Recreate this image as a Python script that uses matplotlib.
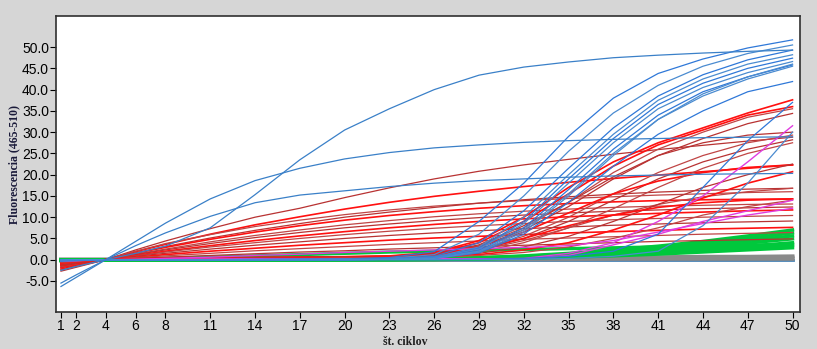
import matplotlib.pyplot as plt

cycles = [1, 2, 4, 6, 8, 11, 14, 17, 20, 23, 26, 29, 32, 35, 38, 41, 44, 47, 50]
xticks = [1, 2, 4, 6, 8, 11, 14, 17, 20, 23, 26, 29, 32, 35, 38, 41, 44, 47, 50]
yticks = [-5, 0, 5, 10, 15, 20, 25, 30, 35, 40, 45, 50]

# early blue curves (high signal)
blue_early = [
    [-2.5, -1.6, 0, 1.5, 3.2, 7.5, 15.3, 23.5, 30.5, 35.5, 40.0, 43.4, 45.3, 46.5, 47.5, 48.1, 48.6, 49.0, 49.3],
    [-6.3, -4.2, 0, 4.3, 8.6, 14.3, 18.6, 21.5, 23.7, 25.2, 26.3, 27.0, 27.6, 28.0, 28.3, 28.5, 28.7, 28.8, 28.9],
    [-5.5, -3.6, 0, 3.3, 6.3, 10.2, 13.4, 15.2, 16.2, 17.2, 18.0, 18.6, 19.0, 19.4, 19.7, 19.9, 20.1, 20.2, 20.3],
]

# blue sigmoid curves
blue_sig = [
    [-0.3, -0.2, 0, 0, 0, 0, 0.1, 0.1, 0.2, 0.5, 1.9, 9.0, 18.0, 29.0, 38.0, 43.8, 47.2, 49.8, 51.7],
    [-0.3, -0.2, 0, 0, 0, 0, 0.0, 0.1, 0.1, 0.3, 1.2, 6.0, 15.0, 25.5, 34.5, 41.0, 45.5, 48.5, 50.5],
    [-0.2, -0.1, 0, 0, 0, 0, 0.0, 0.1, 0.1, 0.2, 0.8, 4.0, 11.5, 21.5, 31.0, 38.5, 43.5, 47.0, 49.3],
    [-0.2, -0.1, 0, 0, 0, 0, 0.0, 0.0, 0.1, 0.2, 0.6, 3.0, 10.0, 20.0, 29.5, 37.5, 42.5, 46.0, 48.2],
    [-0.2, -0.1, 0, 0, 0, 0, 0.0, 0.0, 0.0, 0.2, 0.5, 2.7, 9.0, 19.0, 28.5, 36.5, 41.5, 45.0, 47.4],
    [-0.2, -0.1, 0, 0, 0, 0, 0.0, 0.0, 0.0, 0.1, 0.5, 2.5, 8.5, 18.0, 27.5, 35.5, 40.5, 44.0, 46.6],
    [-0.2, -0.1, 0, 0, 0, 0, 0.0, 0.0, 0.0, 0.1, 0.4, 2.2, 7.5, 16.5, 26.0, 34.0, 39.5, 43.0, 45.8],
    [-0.1, -0.1, 0, 0, 0, 0, 0.0, 0.0, 0.0, 0.1, 0.4, 2.0, 7.0, 15.5, 25.0, 33.0, 38.5, 42.5, 45.5],
    [-0.1, -0.1, 0, 0, 0, 0, 0.0, 0.0, 0.0, 0.1, 0.3, 1.6, 6.0, 13.5, 22.0, 29.5, 35.0, 39.5, 41.9],
    [-0.1, -0.1, 0, 0, 0, 0, 0.0, 0.0, 0.0, 0.1, 0.3, 1.8, 6.5, 15.0, 24.5, 33.0, 39.0, 43.0, 46.0],
    [-0.1, -0.1, 0, 0, 0, 0, 0.0, 0.0, 0.0, 0.0, 0.0, 0.1, 0.3, 0.8, 2.0, 6.0, 17.0, 28.0, 37.0],
    [-0.1, 0.0, 0, 0, 0, 0, 0.0, 0.0, 0.0, 0.0, 0.0, 0.0, 0.1, 0.3, 0.8, 2.0, 8.0, 18.0, 30.0],
]

# red curves with linear drift
red_lin = [
    [-2.7, -1.8, 0, 2.3, 4.4, 7.3, 10.0, 12.1, 14.6, 16.9, 19.0, 20.8, 22.3, 23.6, 24.8, 25.9, 26.9, 27.9, 28.8],
    [-2.2, -1.4, 0, 1.9, 3.6, 6.0, 8.2, 10.1, 11.9, 13.5, 14.9, 16.1, 17.2, 18.2, 19.1, 19.9, 20.7, 21.5, 22.3],
    [-2.4, -1.6, 0, 2.0, 3.8, 5.9, 7.8, 9.3, 10.6, 11.7, 12.6, 13.3, 13.9, 14.4, 14.8, 15.2, 15.5, 15.8, 16.0],
    [-1.9, -1.2, 0, 1.6, 3.1, 5.1, 6.9, 8.5, 10.0, 11.2, 12.3, 13.3, 14.1, 14.8, 15.4, 15.9, 16.3, 16.6, 16.8],
    [-1.8, -1.1, 0, 1.5, 2.9, 4.8, 6.5, 8.0, 9.3, 10.4, 11.3, 12.1, 12.7, 13.2, 13.6, 13.9, 14.1, 14.2, 14.3],
    [-1.6, -1.0, 0, 1.3, 2.5, 4.2, 5.7, 7.0, 8.2, 9.2, 10.1, 10.8, 11.4, 11.9, 12.3, 12.6, 12.8, 13.0, 13.1],
    [-1.5, -0.9, 0, 1.2, 2.3, 3.8, 5.2, 6.4, 7.5, 8.4, 9.2, 9.9, 10.5, 11.0, 11.4, 11.7, 12.0, 12.2, 12.4],
    [-1.3, -0.8, 0, 1.0, 2.0, 3.3, 4.5, 5.6, 6.6, 7.5, 8.3, 9.0, 9.6, 10.1, 10.5, 10.9, 11.2, 11.5, 11.7],
    [-1.2, -0.7, 0, 0.9, 1.8, 3.0, 4.0, 5.0, 5.9, 6.7, 7.4, 8.0, 8.5, 9.0, 9.4, 9.7, 10.0, 10.2, 10.4],
    [-1.0, -0.6, 0, 0.8, 1.5, 2.5, 3.4, 4.2, 5.0, 5.7, 6.3, 6.8, 7.3, 7.7, 8.1, 8.4, 8.7, 8.9, 9.1],
    [-0.9, -0.5, 0, 0.6, 1.2, 2.0, 2.7, 3.4, 4.0, 4.6, 5.1, 5.5, 5.9, 6.3, 6.6, 6.9, 7.2, 7.4, 7.6],
    [-0.7, -0.4, 0, 0.5, 0.9, 1.5, 2.1, 2.6, 3.1, 3.6, 4.0, 4.4, 4.8, 5.1, 5.4, 5.7, 6.0, 6.2, 6.4],
    [-0.5, -0.3, 0, 0.3, 0.6, 1.0, 1.4, 1.8, 2.1, 2.5, 2.8, 3.1, 3.4, 3.7, 4.0, 4.3, 4.5, 4.7, 4.9],
]

# red sigmoid curves (late rise)
red_sig = [
    [-0.8, -0.5, 0, 0.1, 0.2, 0.3, 0.4, 0.5, 0.6, 0.8, 1.5, 4.0, 9.0, 15.5, 22.0, 27.0, 30.5, 34.0, 36.0],
    [-0.9, -0.6, 0, 0.1, 0.2, 0.3, 0.4, 0.5, 0.6, 0.8, 1.3, 3.3, 7.5, 13.5, 20.5, 26.0, 30.0, 33.5, 35.5],
    [-1.0, -0.6, 0, 0.1, 0.2, 0.3, 0.4, 0.5, 0.6, 0.7, 1.2, 3.0, 7.0, 12.5, 19.0, 24.5, 28.5, 32.0, 34.4],
    [-1.1, -0.7, 0, 0.2, 0.3, 0.4, 0.5, 0.6, 0.7, 0.9, 1.7, 4.5, 10.0, 17.0, 23.0, 27.5, 31.0, 34.5, 37.6],
    [-0.7, -0.4, 0, 0.1, 0.2, 0.3, 0.4, 0.5, 0.5, 0.7, 1.1, 2.5, 5.5, 10.0, 15.5, 20.5, 24.5, 27.5, 29.3],
    [-0.6, -0.4, 0, 0.1, 0.2, 0.2, 0.3, 0.4, 0.5, 0.6, 1.0, 2.2, 5.0, 9.0, 14.0, 19.0, 23.0, 26.0, 28.2],
    [-1.2, -0.8, 0, 0.2, 0.3, 0.4, 0.5, 0.6, 0.7, 0.8, 1.3, 3.0, 6.5, 11.0, 15.5, 18.5, 20.5, 21.7, 22.3],
    [-0.9, -0.6, 0, 0.1, 0.2, 0.3, 0.4, 0.5, 0.5, 0.6, 1.0, 2.2, 4.5, 7.5, 10.5, 13.0, 14.8, 16.0, 16.8],
    [-0.5, -0.3, 0, 0.1, 0.1, 0.2, 0.3, 0.3, 0.4, 0.5, 0.8, 1.5, 3.0, 5.5, 9.0, 13.0, 17.0, 20.0, 22.5],
    [-0.4, -0.3, 0, 0.1, 0.1, 0.2, 0.2, 0.3, 0.4, 0.5, 0.7, 1.2, 2.3, 4.0, 7.0, 10.5, 14.5, 18.0, 20.7],
    [-0.4, -0.2, 0, 0.0, 0.1, 0.1, 0.2, 0.2, 0.3, 0.4, 0.6, 1.0, 1.7, 3.0, 5.0, 7.5, 10.5, 12.5, 14.0],
    [-1.3, -0.8, 0, 0.2, 0.3, 0.4, 0.5, 0.6, 0.7, 0.8, 1.4, 3.5, 8.0, 13.5, 19.5, 24.5, 27.5, 29.3, 30.0],
    [-0.8, -0.5, 0, 0.1, 0.2, 0.3, 0.3, 0.4, 0.5, 0.7, 1.2, 2.5, 5.0, 8.0, 10.5, 12.3, 13.4, 14.0, 14.3],
    [-0.6, -0.4, 0, 0.1, 0.1, 0.2, 0.3, 0.3, 0.4, 0.5, 0.8, 1.8, 4.0, 7.5, 12.0, 17.0, 21.5, 25.0, 27.5],
]

magenta = [
    [-0.3, -0.2, 0, 0, 0.1, 0.1, 0.2, 0.2, 0.2, 0.2, 0.2, 0.2, 0.3, 1.5, 4.0, 9.0, 15.0, 23.0, 31.5],
    [-0.3, -0.2, 0, 0, 0.1, 0.1, 0.2, 0.2, 0.2, 0.2, 0.2, 0.2, 0.2, 1.0, 3.5, 6.0, 9.0, 11.5, 14.0],
    [-0.2, -0.1, 0, 0.1, 0.3, 0.6, 1.0, 1.3, 1.7, 2.0, 2.3, 2.6, 2.9, 3.3, 4.5, 6.5, 8.5, 10.5, 12.1],
]

green = [
    [-0.2, -0.1, 0, 0, 0, 0, 0, 0, 0.1, 0.1, 0.2, 0.5, 0.9, 1.5, 2.3, 3.2, 4.3, 5.6, 7.0],
    [-0.2, -0.1, 0, 0, 0, 0, 0, 0, 0.1, 0.1, 0.2, 0.4, 0.8, 1.3, 2.0, 2.9, 3.9, 5.0, 6.3],
    [-0.1, -0.1, 0, 0, 0, 0, 0, 0, 0.0, 0.1, 0.1, 0.3, 0.7, 1.1, 1.7, 2.5, 3.4, 4.5, 5.6],
    [-0.1, -0.1, 0, 0, 0, 0, 0, 0, 0.0, 0.1, 0.1, 0.3, 0.6, 1.0, 1.5, 2.2, 3.0, 3.9, 4.9],
    [-0.1, 0.0, 0, 0, 0, 0, 0, 0, 0.0, 0.0, 0.1, 0.2, 0.5, 0.8, 1.3, 1.8, 2.5, 3.2, 4.0],
    [-0.1, 0.0, 0, 0, 0, 0, 0, 0, 0.0, 0.0, 0.1, 0.2, 0.4, 0.7, 1.1, 1.5, 2.1, 2.7, 3.3],
    [0.0, 0.0, 0, 0, 0, 0, 0, 0, 0.0, 0.0, 0.0, 0.2, 0.3, 0.6, 0.9, 1.3, 1.8, 2.3, 2.8],
    [-0.2, -0.1, 0, 0.1, 0.3, 0.6, 0.9, 1.2, 1.5, 1.8, 2.0, 2.2, 2.4, 2.6, 2.8, 3.0, 3.2, 3.4, 3.6],
]

gray = [
    [0.0, 0.0, 0, 0, 0, 0, 0, 0, 0.1, 0.1, 0.2, 0.3, 0.4, 0.5, 0.5, 0.6, 0.7, 0.7, 0.8],
    [0.0, 0.0, 0, 0, 0, 0, 0, 0, 0.0, 0.1, 0.1, 0.2, 0.2, 0.3, 0.3, 0.4, 0.4, 0.5, 0.5],
    [0.0, 0.0, 0, 0, 0, 0, 0, 0, 0.0, 0.0, 0.0, 0.1, 0.1, 0.1, 0.2, 0.2, 0.2, 0.2, 0.2],
]

# flat negative controls
flat = [
    [0.0, 0.0, 0, 0, 0, 0, 0, 0, 0, 0, 0, 0, 0, 0, 0, 0, 0, 0, 0],
]

fig = plt.figure(figsize=(8.17, 3.49), dpi=100, facecolor="#d6d6d6")
ax = fig.add_axes([0.0685, 0.106, 0.9107, 0.848])
ax.set_facecolor("white")

reds = ["#b83232", "#ff1010", "#c04545"]
for v in flat:
    ax.plot(cycles, v, color="#4682b4", lw=2.0)
for v in gray:
    ax.plot(cycles, v, color="#8a8a8a", lw=2.8)
for v in green:
    ax.plot(cycles, v, color="#00c83c", lw=2.4)
for i, v in enumerate(red_lin):
    ax.plot(cycles, v, color=reds[i % 3], lw=1.2 if i % 3 == 1 else 0.9)
for i, v in enumerate(red_sig):
    ax.plot(cycles, v, color=reds[(i + 1) % 3], lw=1.2 if i % 3 == 0 else 0.9)
for v in magenta:
    ax.plot(cycles, v, color="#e03ce0", lw=1.0)
for i, v in enumerate(blue_sig):
    ax.plot(cycles, v, color=["#2f78d8", "#4a8bd0"][i % 2], lw=0.9)
for v in blue_early:
    ax.plot(cycles, v, color="#3a80c8", lw=0.9)

ax.set_xlim(0.665, 50.5)
ax.set_ylim(-12.3, 57.3)
ax.set_xticks(xticks)
ax.set_yticks(yticks)
ax.set_yticklabels([f"{t:.1f}" for t in yticks])
tick_font = ["Liberation Sans Narrow", "Liberation Sans", "DejaVu Sans"]
for lab in ax.get_xticklabels() + ax.get_yticklabels():
    lab.set_family(tick_font)
    lab.set_fontsize(10)
ax.tick_params(direction="out", length=4, width=0.8, pad=1)
for s in ax.spines.values():
    s.set_color("#303030")
    s.set_linewidth(1.2)

fig.text(0.017, 0.53, "Fluorescencia (465-510)", rotation=90, ha="center", va="center",
         family=["Liberation Serif"], fontweight="bold", fontsize=8.5, color="#1a1a3a")
fig.text(0.496, 0.002, "št. ciklov", ha="center", va="bottom",
         family=["Liberation Serif"], fontweight="bold", fontsize=8.5, color="#202020")

fig.savefig("out.png", dpi=100, facecolor=fig.get_facecolor())
